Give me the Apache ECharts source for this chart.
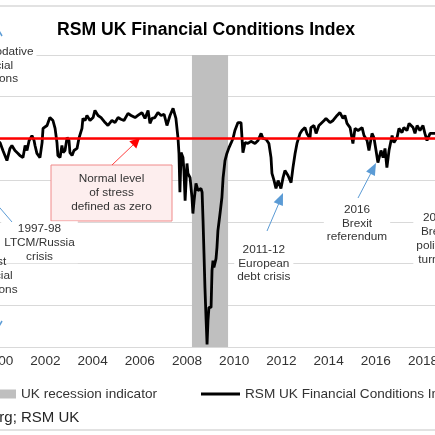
<!DOCTYPE html>
<html>
<head>
<meta charset="utf-8">
<script src="https://cdn.jsdelivr.net/npm/echarts/dist/echarts.min.js"></script>
<style>
  html, body { margin: 0; padding: 0; background: #fff; }
  #chart { width: 435px; height: 435px; }
</style>
</head>
<body>
<div id="chart"></div>
<script>
// weekly-ish readings of the index (fractional year, value)
var years = [1999.82, 2000.08, 2000.20, 2000.37, 2000.50, 2000.58, 2000.71, 2000.84, 2000.92, 2001.05,
  2001.14, 2001.22, 2001.31, 2001.39, 2001.43, 2001.52, 2001.56, 2001.64, 2001.77, 2001.86,
  2001.90, 2002.07, 2002.19, 2002.32, 2002.41, 2002.49, 2002.53, 2002.62, 2002.70, 2002.75,
  2002.83, 2002.92, 2003.00, 2003.04, 2003.13, 2003.21, 2003.34, 2003.42, 2003.55, 2003.59,
  2003.68, 2003.76, 2003.89, 2004.02, 2004.10, 2004.23, 2004.36, 2004.53, 2004.65, 2004.82,
  2004.95, 2005.08, 2005.20, 2005.33, 2005.50, 2005.63, 2005.80, 2005.92, 2006.09, 2006.22,
  2006.35, 2006.43, 2006.52, 2006.64, 2006.77, 2006.90, 2007.03, 2007.15, 2007.28, 2007.41,
  2007.53, 2007.62, 2007.66, 2007.70, 2007.75, 2007.83, 2007.87, 2007.92, 2008.00, 2008.04,
  2008.13, 2008.21, 2008.25, 2008.30, 2008.38, 2008.47, 2008.51, 2008.59, 2008.64, 2008.68,
  2008.72, 2008.76, 2008.81, 2008.85, 2008.89, 2008.93, 2009.02, 2009.06, 2009.10, 2009.14,
  2009.23, 2009.27, 2009.31, 2009.40, 2009.48, 2009.53, 2009.61, 2009.69, 2009.78, 2009.86,
  2009.95, 2010.03, 2010.16, 2010.29, 2010.37, 2010.46, 2010.58, 2010.71, 2010.88, 2011.01,
  2011.14, 2011.22, 2011.35, 2011.47, 2011.56, 2011.60, 2011.69, 2011.77, 2011.86, 2011.98,
  2012.07, 2012.15, 2012.28, 2012.41, 2012.49, 2012.58, 2012.66, 2012.79, 2012.87, 2013.00,
  2013.08, 2013.21, 2013.25, 2013.38, 2013.47, 2013.59, 2013.68, 2013.81, 2013.89, 2014.06,
  2014.19, 2014.36, 2014.48, 2014.61, 2014.69, 2014.78, 2014.91, 2015.03, 2015.12, 2015.25,
  2015.42, 2015.50, 2015.63, 2015.71, 2015.84, 2015.92, 2016.01, 2016.09, 2016.22, 2016.31,
  2016.39, 2016.47, 2016.56, 2016.69, 2016.77, 2016.90, 2016.98, 2017.11, 2017.19, 2017.32,
  2017.41, 2017.58, 2017.66, 2017.75, 2017.87, 2018.00, 2018.08, 2018.17, 2018.30, 2018.42,
  2018.55, 2018.72];

var fci = [-0.05, -0.10, -0.29, -0.53, -0.24, -0.17, -0.29, -0.36, -0.41, -0.46,
  -0.17, -0.29, -0.05, 0.02, 0.07, -0.05, -0.17, -0.36, -0.46, -0.10,
  0.24, 0.31, 0.50, 0.43, 0.24, -0.10, -0.41, -0.46, -0.17, -0.34,
  -0.29, 0.02, -0.05, -0.34, -0.41, -0.29, -0.24, 0.00, 0.24, 0.48,
  0.43, 0.55, 0.43, 0.50, 0.67, 0.55, 0.50, 0.38, 0.31, 0.43,
  0.38, 0.50, 0.46, 0.43, 0.60, 0.55, 0.50, 0.55, 0.62, 0.48,
  0.67, 0.36, 0.48, 0.50, 0.62, 0.55, 0.58, 0.31, 0.55, 0.72,
  0.48, 0.00, -0.36, -1.29, -0.34, -0.46, -0.77, -1.49, -0.60, -0.84,
  -0.94, -1.41, -1.80, -1.49, -1.08, -1.25, -1.29, -1.20, -1.29, -1.97,
  -2.76, -3.57, -4.36, -4.94, -4.36, -4.05, -4.05, -3.17, -2.93, -3.09,
  -2.88, -2.61, -2.21, -1.80, -1.41, -0.94, -0.53, -0.36, -0.22, -0.12,
  0.00, 0.19, 0.38, 0.38, -0.34, -0.10, -0.12, -0.07, -0.12, -0.05,
  0.12, 0.00, -0.02, -0.12, -0.46, -0.84, -1.01, -1.20, -1.01, -1.20,
  -0.94, -0.77, -0.89, -1.06, -0.70, -0.36, -0.12, 0.12, 0.19, 0.26,
  0.12, 0.00, 0.26, 0.31, 0.12, 0.31, 0.36, 0.43, 0.48, 0.38,
  0.43, 0.55, 0.62, 0.48, 0.55, 0.36, 0.26, -0.12, 0.24, 0.19,
  0.26, 0.07, -0.05, -0.29, 0.12, 0.02, -0.29, -0.58, -0.29, -0.46,
  -0.24, -0.70, -0.29, 0.07, -0.10, 0.02, 0.24, 0.14, 0.26, 0.19,
  0.36, 0.26, 0.12, 0.31, 0.19, 0.31, 0.12, -0.05, 0.12, 0.12,
  0.12, 0.14];

// UK recession shading (start, end)
var recession = [2008.21, 2009.74];

// axis ranges
var xMin = 1996, xMax = 2020, xStep = 2;
var yMin = -5, yMax = 2, yStep = 1;

var FONT = '"Liberation Sans", Arial, sans-serif';
var TXT = '#333333';

var lineData = [];
for (var i = 0; i < years.length; i++) {
  lineData.push([years[i], fci[i]]);
}

// text box helper for the annotations
function note(text, x, y, lh, bg) {
  return {
    type: 'text', z: 1, silent: true,
    style: {
      text: text, x: x, y: y,
      fill: TXT, fontSize: 11.8, fontFamily: FONT,
      align: 'center', verticalAlign: 'middle', lineHeight: lh,
      backgroundColor: bg ? '#fff' : null,
      padding: bg ? [0, 3] : 0
    }
  };
}
function seg(x1, y1, x2, y2, color, w) {
  return { type: 'line', z: 1, silent: true,
    shape: { x1: x1, y1: y1, x2: x2, y2: y2 },
    style: { stroke: color, lineWidth: w } };
}
function head(points, color) {
  return { type: 'polygon', z: 1, silent: true,
    shape: { points: points }, style: { fill: color } };
}

var option = {
  backgroundColor: '#fff',
  animation: false,
  title: {
    text: 'RSM UK Financial Conditions Index',
    left: 52, top: 16,
    textStyle: { fontSize: 17.6, fontWeight: 'bold', color: '#000', fontFamily: FONT }
  },
  legend: [
    {
      data: ['UK recession indicator'],
      left: 0, top: 387, padding: 0, icon: 'rect',
      itemWidth: 16, itemHeight: 9, itemGap: 5,
      textStyle: { fontSize: 13.6, color: TXT, fontFamily: FONT }
    },
    {
      data: ['RSM UK Financial Conditions Index'],
      left: 201, top: 387, padding: 0, icon: 'rect',
      itemWidth: 39, itemHeight: 3,
      textStyle: { fontSize: 13.6, color: TXT, fontFamily: FONT, overflow: 'none' }
    }
  ],
  grid: { left: -96.2, right: -35.2, top: 55, bottom: 88, outerBoundsMode: 'none', containLabel: false },
  xAxis: {
    type: 'value', min: xMin, max: xMax, interval: xStep,
    axisLine: { lineStyle: { color: '#d9d9d9', width: 1.5 } },
    axisTick: { show: false },
    splitLine: { show: false },
    axisLabel: {
      margin: 7, fontSize: 13.6, color: TXT, fontFamily: FONT,
      formatter: function (v) { return String(v); }
    }
  },
  yAxis: {
    type: 'value', min: yMin, max: yMax, interval: yStep,
    axisLine: { show: false },
    axisTick: { show: false },
    axisLabel: { show: false },
    splitLine: { lineStyle: { color: '#d9d9d9', width: 1 } }
  },
  series: [
    {
      name: 'UK recession indicator',
      type: 'line',
      data: [],
      itemStyle: { color: '#bfbfbf' },
      z: 1,
      markArea: {
        silent: true,
        itemStyle: { color: '#bfbfbf' },
        data: [[{ xAxis: recession[0] }, { xAxis: recession[1] }]]
      },
      markLine: {
        silent: true,
        symbol: ['none', 'none'],
        label: { show: false },
        lineStyle: { color: '#ff0000', width: 2.5, type: 'solid' },
        data: [{ yAxis: 0 }]
      }
    },
    {
      name: 'RSM UK Financial Conditions Index',
      type: 'line',
      data: lineData,
      symbol: 'none',
      z: 3,
      itemStyle: { color: '#000' },
      lineStyle: { color: '#000', width: 2.8 }
    }
  ],
  graphic: [
    // frame lines
    seg(0, 6, 435, 6, '#d9d9d9', 1.5),
    seg(0, 430, 435, 430, '#d9d9d9', 1.5),
    {
      type: 'text', silent: true,
      style: { text: 'Source: Bloomberg; RSM UK', x: -115.7, y: 418, fill: '#262626',
        fontSize: 15, fontFamily: FONT, align: 'left', verticalAlign: 'middle' }
    },
    // zero-stress box with red arrow
    { type: 'rect', z: 1, silent: true,
      shape: { x: 51, y: 165, width: 121, height: 56 },
      style: { fill: '#fdeeee', stroke: '#f08a8a', lineWidth: 1 } },
    note('Normal level\nof stress\ndefined as zero', 111.5, 192.5, 14, false),
    seg(112, 165, 133, 145, '#ff4040', 1),
    head([[140, 138], [136.3, 148.5], [129.3, 141.3]], '#ff0000'),
    // left side notes
    note('Accommodative\nfinancial\nconditions', -8.5, 65.3, 13.7, true),
    seg(2, 36, -12, 12, '#5b9bd5', 1.5),
    note('1997-98\nLTCM/Russia\ncrisis', 39.5, 242.3, 14, true),
    seg(-30, 173, 12, 222, '#5b9bd5', 1),
    note('Worst\nfinancial\nconditions', -9, 276, 14, false),
    seg(2, 321, -12, 345, '#5b9bd5', 1.5),
    // event notes
    note('2011-12\nEuropean\ndebt crisis', 263.8, 263.5, 13.4, true),
    seg(267, 231, 279, 203, '#5b9bd5', 1),
    head([[283, 193], [282.9, 206.0], [273.7, 202.2]], '#5b9bd5'),
    note('2016\nBrexit\nreferendum', 357, 223.5, 13.4, true),
    seg(358, 198, 371, 173, '#5b9bd5', 1),
    head([[376, 163], [374.9, 176.0], [366.1, 171.4]], '#5b9bd5'),
    note('2019\nBrexit\npolitical\nturmoil', 436, 239, 14, true)
  ]
};

var myChart = echarts.init(document.getElementById('chart'));
myChart.setOption(option);
</script>
</body>
</html>
